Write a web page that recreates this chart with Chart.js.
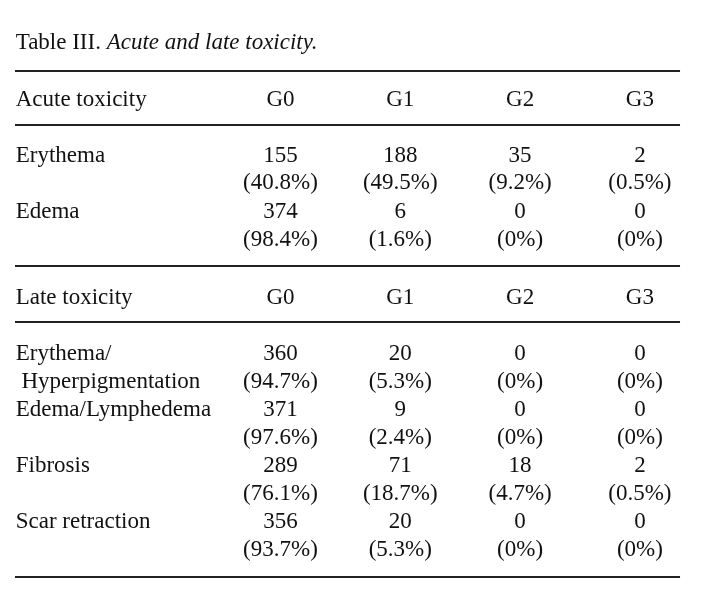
<!DOCTYPE html>
<html>
<head>
<meta charset="utf-8">
<script src="https://cdn.jsdelivr.net/npm/chart.js@4/dist/chart.umd.min.js"></script>
<style>
  body { margin: 0; background: #fff; }
</style>
</head>
<body>
<canvas id="toxicity-table" width="701" height="613"></canvas>
<script>
// Table III data
var titleLead = 'Table III.';
var titleText = 'Acute and late toxicity.';
var grades = ['G0', 'G1', 'G2', 'G3'];

var acuteHeader = 'Acute toxicity';
var acuteItems = [['Erythema'], ['Edema']];
var acuteCounts = [[155, 188, 35, 2], [374, 6, 0, 0]];
var acutePercents = [[40.8, 49.5, 9.2, 0.5], [98.4, 1.6, 0, 0]];

var lateHeader = 'Late toxicity';
var lateItems = [['Erythema/', ' Hyperpigmentation'], ['Edema/Lymphedema'], ['Fibrosis'], ['Scar retraction']];
var lateCounts = [[360, 20, 0, 0], [371, 9, 0, 0], [289, 71, 18, 2], [356, 20, 0, 0]];
var latePercents = [[94.7, 5.3, 0, 0], [97.6, 2.4, 0, 0], [76.1, 18.7, 4.7, 0.5], [93.7, 5.3, 0, 0]];

// layout in scale units: x = grade column (G0 = 1), y = text line
var labelX = -1.21;
var ruleLeft = -1.216, ruleRight = 4.335;
var titleY = 1.756;
var rules = [2.545, 4.48, 9.53, 11.54, 20.68];
var acuteHeaderY = 3.8, acuteStartY = 5.79;
var lateHeaderY = 10.9, lateStartY = 12.9;

function pct(v) { return '(' + v + '%)'; }

function sectionTexts(header, headerY, items, counts, percents, startY) {
  var pts = [{ x: labelX, y: headerY, text: header, align: 'left' }];
  grades.forEach(function (g, j) {
    pts.push({ x: j + 1, y: headerY, text: g, align: 'center' });
  });
  items.forEach(function (lines, i) {
    var y0 = startY + 2.01 * i;
    lines.forEach(function (line, k) {
      pts.push({ x: labelX, y: y0 + k, text: line, align: 'left' });
    });
    counts[i].forEach(function (c, j) {
      pts.push({ x: j + 1, y: y0, text: String(c), align: 'center' });
      pts.push({ x: j + 1, y: y0 + 1, text: pct(percents[i][j]), align: 'center' });
    });
  });
  return pts;
}

var datasets = rules.map(function (y) {
  return {
    type: 'line',
    data: [{ x: ruleLeft, y: y }, { x: ruleRight, y: y }],
    borderColor: '#222',
    borderWidth: 2,
    pointRadius: 0,
  };
});

datasets.push({
  isText: true,
  data: [{ x: labelX, y: titleY, text: titleLead, italicText: titleText, align: 'left' }]
    .concat(sectionTexts(acuteHeader, acuteHeaderY, acuteItems, acuteCounts, acutePercents, acuteStartY))
    .concat(sectionTexts(lateHeader, lateHeaderY, lateItems, lateCounts, latePercents, lateStartY)),
  pointRadius: 0,
});

var cellText = {
  id: 'cellText',
  afterDatasetsDraw: function (chart) {
    var ctx = chart.ctx;
    chart.data.datasets.forEach(function (ds, di) {
      if (!ds.isText) return;
      var meta = chart.getDatasetMeta(di);
      meta.data.forEach(function (el, i) {
        var raw = ds.data[i];
        ctx.save();
        ctx.fillStyle = '#111';
        ctx.textBaseline = 'alphabetic';
        ctx.textAlign = raw.align;
        ctx.font = '23px "Liberation Serif"';
        ctx.fillText(raw.text, el.x, el.y);
        if (raw.italicText) {
          var w = ctx.measureText(raw.text + ' ').width;
          ctx.font = 'italic 23px "Liberation Serif"';
          ctx.fillText(raw.italicText, el.x + w, el.y);
        }
        ctx.restore();
      });
    });
  },
};

var ctx = document.getElementById('toxicity-table').getContext('2d');
var tableChart = new Chart(ctx, {
  type: 'scatter',
  data: { datasets: datasets },
  options: {
    responsive: false,
    animation: false,
    events: [],
    layout: { padding: 0 },
    plugins: { legend: { display: false }, tooltip: { enabled: false } },
    scales: {
      x: { type: 'linear', display: false, min: -1.341, max: 4.51 },
      y: { type: 'linear', display: false, reverse: true, min: 0, max: 21.97 },
    },
  },
  plugins: [cellText],
});
</script>
</body>
</html>
